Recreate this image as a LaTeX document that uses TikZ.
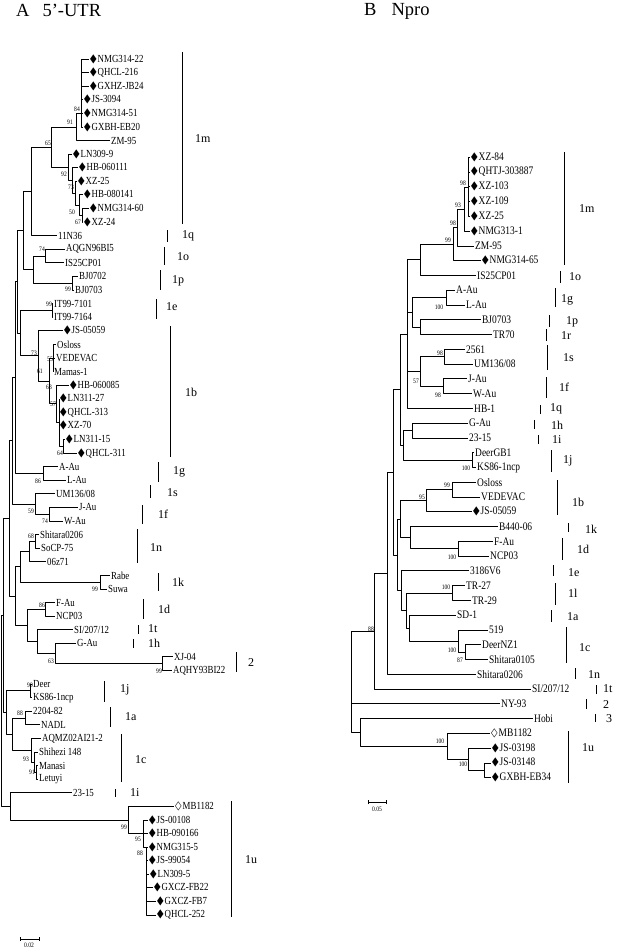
\documentclass[tikz,border=0pt]{standalone}
\usepackage{fontspec}
\setmainfont{Liberation Serif}[FakeStretch=0.82]
\newfontfamily\grpfont{Liberation Serif}
\newfontfamily\symfont{DejaVu Sans}
\newcommand\fd{{\symfont\fontsize{10}{10}\selectfont\scalebox{0.85}[1.2]{◆}}\hspace{1pt}}
\newcommand\od{{\symfont\fontsize{10}{10}\selectfont\scalebox{0.85}[1.2]{◇}}\hspace{1pt}}

\begin{document}
\begin{tikzpicture}[x=1pt,y=-1pt,line join=round,
  br/.style={line width=0.75pt},
  bar/.style={line width=0.9pt},
  leafA/.style={anchor=west,inner sep=1pt,font=\fontsize{10.8}{12}\selectfont},
  leafB/.style={anchor=west,inner sep=1pt,font=\fontsize{11.5}{13}\selectfont},
  bs/.style={inner sep=0pt,font=\fontsize{6.8}{7}\selectfont},
  grp/.style={anchor=west,inner sep=0pt,font=\grpfont\fontsize{12}{13}\selectfont},
  ttl/.style={anchor=base west,inner sep=0pt,font=\grpfont\fontsize{18.5}{20}\selectfont}]
  \useasboundingbox (0,0) rectangle (618,948);

  \node[ttl] (titleA) at (16,16) {A\hspace{13pt}5’-UTR};
  \node[ttl] (titleB) at (364,15.5) {B\hspace{15pt}Npro};

  % tree A: leaves
  \foreach \lab/\tip [count=\i from 0] in {
    {\fd NMG314-22}/89,{\fd QHCL-216}/89,{\fd GXHZ-JB24}/89,{\fd JS-3094}/83,
    {\fd NMG314-51}/83,{\fd GXBH-EB20}/83,ZM-95/110,{\fd LN309-9}/72,
    {\fd HB-060111}/78,{\fd XZ-25}/77,{\fd HB-080141}/83,{\fd NMG314-60}/89,
    {\fd XZ-24}/83,11N36/57,AQGN96BI5/65,IS25CP01/64,BJ0702/78,BJ0703/74,
    IT99-7101/53,IT99-7164/53,{\fd JS-05059}/63,Osloss/56,VEDEVAC/55,Mamas-1/53,
    {\fd HB-060085}/69,{\fd LN311-27}/59,{\fd QHCL-313}/59,{\fd XZ-70}/59,
    {\fd LN311-15}/65,{\fd QHCL-311}/77,A-Au/58,L-Au/66,{UM136/08}/55,J-Au/78,
    W-Au/63,Shitara0206/39,SoCP-75/40,06z71/46,Rabe/110,Suwa/107,F-Au/55,
    NCP03/55,{SI/207/12}/73,G-Au/76,XJ-04/173,AQHY93BI22/172,Deer/32,
    KS86-1ncp/32,2204-82/32,NADL/40,AQMZ02AI21-2/41,Shihezi 148/38,Manasi/38,
    Letuyi/38,23-15/72,{\od MB1182}/174,{\fd JS-00108}/148,{\fd HB-090166}/148,
    {\fd NMG315-5}/148,{\fd JS-99054}/148,{\fd LN309-5}/149,{\fd GXCZ-FB22}/153,
    {\fd GXCZ-FB7}/156,{\fd QHCL-252}/156}
    \node[leafA] (A\i) at (\tip,{59+13.587*\i}) {\lab};

  % tree A: inner nodes
  \foreach \n/\x/\y in {a84/81/113.8,a91/76/127.2,n67/82/215.2,n50/79/205,
    n73/75/193.2,n92/72/180.4,nLN/68/167.3,a65/51/147.2,nq/31/191.4,
    n74/45/256,n99p/72/283.2,nop/33/269.6,nA1/23/230.5,n99e/52/310.4,
    n55/53/357.9,n64/63/446.2,nsub/59/422.5,n57/56/403.8,n63/49/380.9,
    n73b/38/355.8,n1eb/20/333.1,nA2/17/281.8,n86/43/473.4,nA3/15/377.6,
    n74f/49/514.2,n59/35/504,nA4/12/440.8,n68/35/541.3,n06/29/551.5,
    n99k/100/582.1,n1nk/20/566.8,n86d/45/609.3,n99x/162/663.6,n63h/55/653.4,
    nt/37/641.6,n1d/27/625.5,n1kd/15/596.1,nA5/9/518.5,n99j/30/690.8,
    n88/25/718,n91c/36/772.3,n93/34/762.1,n1c/31/750.3,n1ac/12/734.2,
    n1jac/6/712.5,uA/3/615.5,nrest/146/847.1,n88u/143/833.5,n99u/128/819.9,
    n1i/10/806.3,rA/1/710.9}
    \coordinate (\n) at (\x,\y);

  \foreach \p/\c in {a84/A0,a84/A1,a84/A2,a84/A3,a84/A4,a84/A5,a91/a84,a91/A6,
    n67/A11,n67/A12,n50/A10,n50/n67,n73/A9,n73/n50,n92/A8,n92/n73,nLN/A7,
    nLN/n92,a65/a91,a65/nLN,nq/a65,nq/A13,n74/A14,n74/A15,n99p/A16,n99p/A17,
    nop/n74,nop/n99p,nA1/nq,nA1/nop,n99e/A18,n99e/A19,n55/A21,n55/A22,n55/A23,
    n64/A28,n64/A29,nsub/A25,nsub/A26,nsub/A27,nsub/n64,n57/A24,n57/nsub,
    n63/n55,n63/n57,n73b/A20,n73b/n63,n1eb/n99e,n1eb/n73b,nA2/nA1,nA2/n1eb,
    n86/A30,n86/A31,nA3/nA2,nA3/n86,n74f/A33,n74f/A34,n59/A32,n59/n74f,
    nA4/nA3,nA4/n59,n68/A35,n68/A36,n06/n68,n06/A37,n99k/A38,n99k/A39,
    n1nk/n06,n1nk/n99k,n86d/A40,n86d/A41,n99x/A44,n99x/A45,n63h/A43,n63h/n99x,
    nt/A42,nt/n63h,n1d/n86d,n1d/nt,n1kd/n1nk,n1kd/n1d,nA5/nA4,nA5/n1kd,
    n99j/A46,n99j/A47,n88/A48,n88/A49,n91c/A52,n91c/A53,n93/A51,n93/n91c,
    n1c/A50,n1c/n93,n1ac/n88,n1ac/n1c,n1jac/n99j,n1jac/n1ac,uA/nA5,uA/n1jac,
    nrest/A58,nrest/A59,nrest/A60,nrest/A61,nrest/A62,nrest/A63,n88u/A56,
    n88u/A57,n88u/nrest,n99u/A55,n99u/n88u,n1i/A54,n1i/n99u,rA/uA,rA/n1i}
    \draw[br] (\p) |- (\c);

  \foreach \x/\y/\t [count=\i] in {77/109/84,70/122/91,48/143/65,64/174/92,
    71/187/73,72/212/50,78/222/67,42/249/74,68/289/99,49/304/99,34/353/73,
    40/371/61,50/359/55,49/387/63,53/404/57,60/453/64,38/481/86,31/511/59,
    45/521/74,31/536/68,95/589/99,42/605/86,51/661/63,159/671/99,30/685/99,
    20/713/88,26/759/93,32/772/91,124/827/99,138/839/95,140/853/88}
    \node[bs] (bsA\i) at (\x,\y) {\t};

  \foreach \x/\t/\b/\l/\lx/\ly [count=\i] in {182/52/224/1m/195/139,
    167/230/242/1q/182/236,164/247/265/1o/177/257,160/270/290/1p/172/281,
    156/299/319/1e/166/307,170/326/457/1b/185/392,158/462/482/1g/173/472,
    150/485/498/1s/167/493,142/505/524/1f/158/514,137/529/563/1n/150/548,
    158/573/591/1k/172/582,143/599/619/1d/158/609,138/625/634/1t/148/629,
    133/639/648/1h/148/643,236/652/672/2/248/663,104/681/702/1j/120/690,
    110/707/727/1a/125/717,121/734/782/1c/135/760,115/789/797/1i/130/793,
    231/801/917/1u/245/860} {
    \draw[bar] (\x,\t) -- (\x,\b);
    \node[grp] (gA\i) at (\lx,\ly) {\l};
  }

  % scale A
  \coordinate (sA1) at (20,939);
  \coordinate (sA2) at (39,939);
  \draw[br] (sA1) -- (sA2);
  \draw[br] ([yshift=-2pt]sA1) -- ([yshift=2pt]sA1);
  \draw[br] ([yshift=-2pt]sA2) -- ([yshift=2pt]sA2);
  \node[bs] (sAl) at (29,945.5) {0.02};

  % tree B: leaves
  \foreach \lab/\tip [count=\i from 0] in {
    {\fd XZ-84}/470,{\fd QHTJ-303887}/470,{\fd XZ-103}/470,{\fd XZ-109}/470,
    {\fd XZ-25}/470,{\fd NMG313-1}/470,ZM-95/474,{\fd NMG314-65}/481,
    IS25CP01/476,A-Au/455,L-Au/465,BJ0703/481,TR70/492,2561/465,{UM136/08}/473,
    J-Au/467,W-Au/472,HB-1/473,G-Au/468,23-15/468,DeerGB1/474,KS86-1ncp/476,
    Osloss/476,VEDEVAC/480,{\fd JS-05059}/472,B440-06/498,F-Au/493,NCP03/489,
    3186V6/469,TR-27/465,TR-29/471,SD-1/456,519/488,DeerNZ1/481,
    Shitara0105/488,Shitara0206/476,{SI/207/12}/531,NY-93/500,Hobi/533,
    {\od MB1182}/490,{\fd JS-03198}/491,{\fd JS-03148}/491,{\fd GXBH-EB34}/491}
    \node[leafB] (B\i) at (\tip,{157.3+14.77*\i}) {\lab};

  % tree B: inner nodes
  \foreach \n/\x/\y in {nB98/468/186.9,nB93/464/209,nB98b/457/227.5,
    nB99/453/244.1,nB1o/420/259.8,nB100g/446/297.6,nB1pr/420/327.2,
    nBgp/412/312.4,nB98s/444/356.7,nB98f/443/386.2,nB57/420/371.5,
    nBup/407/334.1,nB1hi/412/430.6,nB100j/472/460.1,nBhij/403/445.4,
    nBtop/400/389.8,nB99b/452/489.6,nB95/426/500.7,nB1d/458/548.7,
    nBkd/410/537.7,nBbkd/400/519.2,nB100l/452/593,nB87/465/652.1,
    nB100c/458/641,nBac/409/628.1,nBlac/406/610.6,nBelac/401/590.8,
    nBmid/397/555,nBmid2/393/472.4,nBmid3/387/573.4,nB88/374/631.2,
    nBu2/484/770.3,nBu1/468/759.2,nBu/447/746.2,nBh/360/732.4,rB/351/681.8}
    \coordinate (\n) at (\x,\y);

  \foreach \p/\c in {nB98/B0,nB98/B1,nB98/B2,nB98/B3,nB98/B4,nB93/nB98,
    nB93/B5,nB98b/nB93,nB98b/B6,nB99/nB98b,nB99/B7,nB1o/nB99,nB1o/B8,
    nB100g/B9,nB100g/B10,nB1pr/B11,nB1pr/B12,nBgp/nB100g,nBgp/nB1pr,
    nB98s/B13,nB98s/B14,nB98f/B15,nB98f/B16,nB57/nB98s,nB57/nB98f,
    nBup/nB1o,nBup/nBgp,nBup/nB57,nBup/B17,nB1hi/B18,nB1hi/B19,nB100j/B20,
    nB100j/B21,nBhij/nB1hi,nBhij/nB100j,nBtop/nBup,nBtop/nBhij,nB99b/B22,
    nB99b/B23,nB95/nB99b,nB95/B24,nB1d/B26,nB1d/B27,nBkd/B25,nBkd/nB1d,
    nBbkd/nB95,nBbkd/nBkd,nB100l/B29,nB100l/B30,nB87/B33,nB87/B34,
    nB100c/B32,nB100c/nB87,nBac/B31,nBac/nB100c,nBlac/nB100l,nBlac/nBac,
    nBelac/B28,nBelac/nBlac,nBmid/nBbkd,nBmid/nBelac,nBmid2/nBtop,
    nBmid2/nBmid,nBmid3/nBmid2,nBmid3/B35,nB88/nBmid3,nB88/B36,nBu2/B41,
    nBu2/B42,nBu1/B40,nBu1/nBu2,nBu/B39,nBu/nBu1,nBh/B38,nBh/nBu,rB/nB88,
    rB/B37,rB/nBh}
    \draw[br] (\p) |- (\c);

  \foreach \x/\y/\t [count=\i] in {463/183/98,458/205/93,453/223/98,
    448/240/99,439/307/100,440/353/98,416/381/57,438/395/98,466/468/100,
    447/485/99,422/497/95,452/557/100,446/587/100,371/629/88,452/650/100,
    460/660/87,440/741/100,463/764/100}
    \node[bs] (bsB\i) at (\x,\y) {\t};

  \foreach \x/\t/\b/\l/\lx/\ly [count=\i] in {564/152/265/1m/579/209,
    560/271/283/1o/569/277,555/288/307/1g/561/300,549/315/327/1p/566/322,
    546/329/341/1r/561/336,547/345/370/1s/563/358,546/377/398/1f/559/387,
    540/405/414/1q/550/409,534/420/429/1h/551/425,538/435/444/1i/552/440,
    551/450/472/1j/563/461,557/480/515/1b/572/502,568/523/532/1k/585/529,
    562/538/560/1d/577/549,553/565/576/1e/568/573,555/583/605/1l/568/593,
    551/610/622/1a/567/617,566/627/663/1c/579/648,575/668/679/1n/588/675,
    596/685/694/1t/603/689,586/699/709/2/603/705,595/714/722/3/606/719,
    568/731/783/1u/582/748} {
    \draw[bar] (\x,\t) -- (\x,\b);
    \node[grp] (gB\i) at (\lx,\ly) {\l};
  }

  % scale B
  \coordinate (sB1) at (368,802);
  \coordinate (sB2) at (386,802);
  \draw[br] (sB1) -- (sB2);
  \draw[br] ([yshift=-2pt]sB1) -- ([yshift=2pt]sB1);
  \draw[br] ([yshift=-2pt]sB2) -- ([yshift=2pt]sB2);
  \node[bs] (sBl) at (377,809.5) {0.05};
\end{tikzpicture}
\end{document}
